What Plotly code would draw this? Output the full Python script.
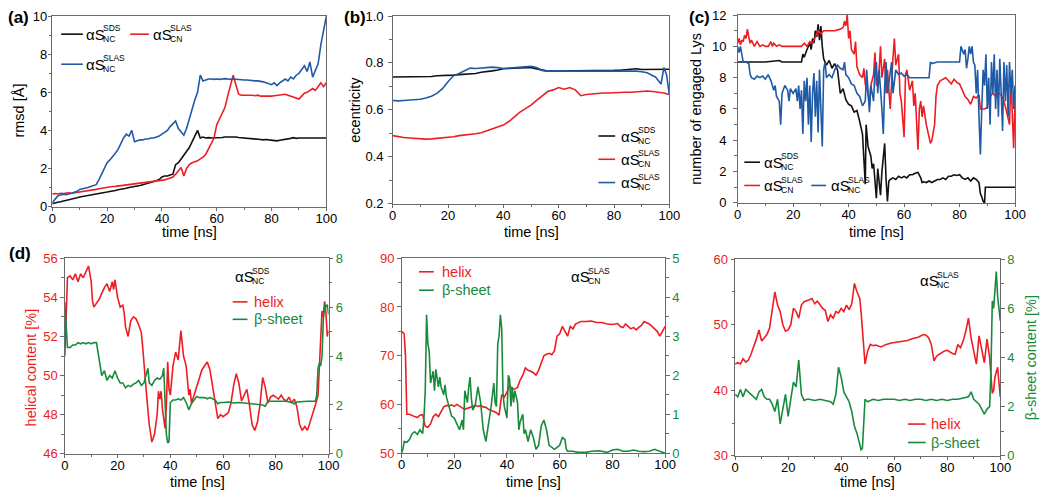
import plotly.graph_objects as go

# ---------------- data ----------------
time_a = list(range(0, 101))
rmsd_sds = [0.15,0.2,0.22,0.25,0.28,0.3,0.35,0.38,0.42,0.46,0.5,0.53,0.56,0.6,0.62,0.65,0.67,0.7,0.72,0.74,
            0.76,0.78,0.8,0.84,0.88,0.9,0.93,0.96,1.0,1.02,1.05,1.08,1.1,1.14,1.18,1.2,1.25,1.3,1.35,1.42,
            1.55,1.6,1.6,1.65,1.7,2.2,2.3,2.5,2.7,2.9,3.1,3.4,3.7,4.0,3.6,3.65,3.6,3.62,3.6,3.6,
            3.62,3.6,3.63,3.65,3.65,3.67,3.66,3.65,3.63,3.62,3.6,3.6,3.58,3.57,3.55,3.55,3.52,3.5,3.52,3.5,
            3.48,3.45,3.45,3.48,3.5,3.52,3.55,3.58,3.62,3.58,3.6,3.6,3.6,3.58,3.6,3.6,3.6,3.58,3.6,3.6,3.6]
rmsd_cn = [0.65,0.68,0.66,0.7,0.68,0.7,0.72,0.7,0.72,0.74,0.75,0.77,0.8,0.82,0.84,0.86,0.9,0.93,0.96,0.98,
           1.0,1.02,1.05,1.06,1.08,1.1,1.12,1.14,1.15,1.18,1.2,1.22,1.24,1.26,1.28,1.3,1.3,1.32,1.35,1.35,
           1.38,1.4,1.45,1.5,1.55,1.7,1.85,2.05,1.6,2.0,2.2,2.3,2.35,2.4,2.5,2.6,2.75,3.0,3.3,3.6,
           4.3,4.6,4.9,5.2,5.8,6.3,6.9,6.4,5.9,5.85,5.85,5.88,5.85,5.85,5.82,5.85,5.8,5.8,5.78,5.8,
           5.8,5.82,5.85,5.85,5.88,5.9,5.85,5.8,5.75,5.7,5.65,5.8,5.95,6.0,6.1,6.2,6.1,6.3,6.5,6.3,6.5]
rmsd_nc = [0.2,0.4,0.55,0.6,0.65,0.62,0.68,0.7,0.75,0.8,0.9,0.92,0.95,1.0,1.05,1.08,1.15,1.4,1.7,2.0,
           2.3,2.45,2.6,2.8,3.0,3.3,3.6,3.8,3.7,4.0,3.4,3.45,3.5,3.5,3.55,3.55,3.6,3.6,3.65,3.7,
           3.8,3.9,4.0,4.2,4.35,4.5,4.1,3.9,3.75,4.1,4.6,5.2,5.6,6.0,6.9,6.6,6.65,6.7,6.7,6.68,
           6.7,6.68,6.7,6.72,6.7,6.68,6.7,6.68,6.66,6.65,6.65,6.65,6.62,6.62,6.6,6.6,6.58,6.55,6.5,6.45,
           6.4,6.5,6.35,6.5,6.6,6.7,6.6,6.8,6.7,6.9,7.0,7.2,7.4,7.1,7.6,6.8,7.2,7.5,8.5,9.2,10.0]

time_b = list(range(0, 101, 2))
ecc_sds = [0.74,0.74,0.742,0.74,0.742,0.742,0.743,0.742,0.745,0.745,0.746,0.748,0.75,0.752,0.752,
           0.755,0.76,0.762,0.766,0.77,0.775,0.776,0.778,0.78,0.78,0.78,0.776,0.77,0.765,0.765,
           0.765,0.766,0.765,0.766,0.766,0.767,0.767,0.768,0.767,0.768,0.768,0.769,0.77,0.772,0.775,
           0.772,0.772,0.772,0.772,0.773,0.773]
ecc_cn = [0.49,0.485,0.482,0.48,0.478,0.476,0.475,0.476,0.478,0.48,0.482,0.485,0.49,0.492,0.495,
          0.498,0.502,0.51,0.518,0.525,0.535,0.55,0.57,0.59,0.605,0.62,0.64,0.66,0.678,0.685,
          0.695,0.688,0.695,0.685,0.66,0.665,0.668,0.67,0.672,0.672,0.674,0.675,0.675,0.675,0.677,
          0.678,0.68,0.678,0.675,0.672,0.665]
time_b_nc = list(range(0, 95, 2)) + [95, 96, 97, 98, 99, 100]
ecc_nc = [0.64,0.638,0.64,0.642,0.642,0.645,0.65,0.658,0.67,0.69,0.72,0.745,0.755,0.765,0.778,
          0.776,0.778,0.78,0.782,0.78,0.776,0.778,0.78,0.782,0.783,0.786,0.78,0.768,0.765,0.765,
          0.765,0.766,0.765,0.766,0.767,0.767,0.768,0.767,0.768,0.768,0.768,0.768,0.767,0.766,0.765,
          0.762,0.758,0.745,0.74,0.725,0.71,0.78,0.75,0.665]

lys_sds = [(0,9),(5,9),(10,9),(15,9.1),(16,9),(20,9),(23,9),(23.5,9.5),(24,9.3),(25,9.8),(26,10.2),(26.5,9.8),
           (27,10.5),(27.5,10.2),(28,11),(28.5,10.6),(29,11.4),(29.5,10.4),(30,11.3),(30.5,10),(31,9.2),(32,8.8),
           (33,9.1),(34,8.6),(35,8.9),(36,8.5),(36.5,7.5),(37,7.0),(38,7.3),(39,6.6),(40,6.3),(41,6.2),(42,5.8),
           (43,5.9),(44,5.2),(45,4.4),(45.5,2.8),(46,1.2),(46.3,5.0),(47,3.6),(48,3.0),(48.5,2.2),(49,2.5),
           (49.5,1.2),(50,0.3),(50.5,2.2),(51,1.5),(51.5,0.5),(52,2.0),(53,3.8),(53.5,1.5),(54,0.1),(54.5,1.4),
           (55,1.5),(56,1.6),(57,1.5),(58,1.7),(59,1.6),(60,1.7),(61,1.6),(62,1.8),(63,1.8),(64,1.9),(65,1.95),
           (66,1.6),(66.5,1.3),(67,1.35),(68,1.3),(69,1.4),(70,1.3),(71,1.4),(72,1.5),(73,1.5),(74,1.6),(75,1.5),
           (76,1.7),(77,1.7),(78,1.8),(79,1.75),(80,1.8),(81,1.6),(82,1.5),(83,1.6),(84,1.4),(85,1.6),(86,1.5),
           (87,1.3),(87.5,0.6),(88,0.4),(88.5,0.1),(89,0.0),(89.3,1.0),(90,1.0),(95,1.0),(100,1.0)]
lys_cn = [(0,10.2),(0.5,10.5),(1,10.1),(1.5,10.4),(2,10.3),(2.5,10.7),(3,10.5),(3.5,11.1),(4,10.6),(4.5,10.2),
          (5,10.4),(6,10.0),(7,10.3),(8,10.0),(9,10.1),(10,10.0),(11,10.0),(12,10.3),(12.5,10.0),(13,10.2),
          (14,10.0),(15,10.1),(16,10.0),(20,10),(23,10),(24,10.2),(25,10.0),(26,10.3),(27,10.2),(28,10.6),
          (29,11.0),(30,10.8),(31,11),(33,11),(35,11),(37,11.1),(38,11.2),(38.5,11.6),(39,11.3),(39.5,12),
          (40,10.5),(40.5,11),(41,9.8),(42,9.5),(42.5,10.3),(43,8.7),(44,8.2),(45,8.0),(45.5,8.6),(46,7.6),
          (47,7.0),(47.5,6.2),(48,7.5),(49,8.2),(49.5,9.6),(50,7.5),(51,8.5),(51.5,10),(52,8),(53,9.2),
          (53.5,7),(54,8.5),(55,6),(56,9.3),(56.5,10.5),(57,8.8),(58,9.5),(58.5,7),(59,6.5),(60,4.2),
          (60.5,8.2),(61,8.5),(62,7.2),(63,7.8),(63.5,6.2),(64,7),(65,3.4),(65.5,6),(66,6.5),(66.5,5.5),
          (67,6.2),(68,5.0),(69,4.2),(69.5,3.8),(70,4.0),(71,5.0),(71.5,6.8),(72,7.5),(73,7.8),(74,7.9),
          (75,8.0),(76,7.8),(77,7.6),(78,7.9),(79,7.7),(80,7.6),(81,7.2),(82,6.8),(83,6.6),(84,6.3),(85,6.8),
          (86,6.7),(87,6.9),(87.5,6.0),(88,6.0),(89,6.0),(90,6.1),(90.5,7.0),(91,6.8),(92,7.0),(93,6.8),
          (94,7.0),(95,6.9),(96,6.5),(97,5.8),(98,5.0),(98.5,8.0),(99,6.0),(99.5,3.5),(100,6.5)]
lys_nc = [(0,10),(0.5,9.6),(1,10),(1.5,9.5),(2,9),(3,9),(4,8.9),(4.5,8.2),(5,8),(6,7.9),(7,8.1),(8,8.0),(9,8.1),
          (10,7.9),(11,8.2),(12,7.8),(12.5,7.5),(13,7.2),(13.5,7.5),(14,6.8),(15,6.5),(15.5,5.0),(16,7.0),
          (17,7.5),(18,7.2),(18.5,6.5),(19,7.3),(20,7.0),(21,7.3),(21.5,6.5),(22,7.5),(22.5,6.0),(23,7.2),
          (23.5,4.4),(24,7.8),(24.5,6.5),(25,8.0),(25.5,5.0),(26,7.5),(26.5,3.9),(27,7.0),(27.5,8.3),(28,5.5),
          (28.5,7.8),(29,4.5),(29.5,8.5),(30,6.0),(30.5,3.6),(31,8.5),(31.5,9.0),(32,8.0),(33,8.2),(34,8.0),
          (35,8.5),(36,8.8),(37,8.6),(38,8.5),(38.5,9),(39,8.2),(40,8.0),(41,7.6),(42,7.5),(43,7.0),(44,6.8),
          (45,6.2),(46,6.5),(46.5,8.5),(47,7.0),(47.5,5.8),(48,7.5),(49,6.5),(49.5,8.5),(50,9.0),(50.5,7.0),
          (51,8.5),(52,6.0),(52.5,4.4),(53,7.5),(53.5,9.0),(54,7.0),(55,8.5),(55.5,9.0),(56,7.0),(57,8.5),
          (58,8.2),(59,8.3),(60,8.1),(61,8.2),(62,8.0),(64,8.0),(66,8.0),(68,8.0),(69,8.0),(69.5,9.0),(70,8.9),
          (72,9.0),(74,9.0),(76,9.0),(78,9.0),(80,9.0),(80.5,10),(81,9.8),(81.5,9.5),(82,9.8),(82.5,8.6),
          (83,9.2),(83.5,10),(84,9.5),(84.5,10),(85,9.0),(85.5,8.8),(86,7.0),(86.5,8.5),(87,5.5),(87.5,3.1),
          (88,6.0),(88.5,8.5),(89,7.5),(89.5,9.5),(90,6.0),(90.5,8.0),(91,5.0),(91.5,9.0),(92,7.0),(92.5,9.5),
          (93,6.0),(93.5,8.5),(94,5.5),(94.5,9.2),(95,7.0),(95.5,4.6),(96,9.0),(96.5,6.5),(97,8.8),(97.5,5.5),
          (98,9.0),(98.5,7.0),(99,8.5),(99.5,6.0),(100,7.5)]

helix_sds = [(0,51),(0.5,53.5),(1,55),(2,55.1),(3,54.9),(4,55.2),(5,54.8),(6,55.2),(7,55.0),(8,55.3),(9,55.6),
             (10,54.8),(10.5,53.8),(11,53.5),(12,53.7),(13,53.9),(14,54.2),(15,54.5),(16,54.7),(17,54.3),
             (18,54.8),(18.5,54.4),(19,54.9),(20,54.0),(21,53.5),(22,53.6),(22.5,53.2),(23,52.5),(24,52.0),
             (25,52.8),(26,53.0),(27,52.9),(28,52.6),(29,52.2),(29.5,51.5),(30,50.5),(31,49.0),(32,47.5),
             (33,46.6),(34,47.0),(35,48.0),(35.5,49.2),(36,48.8),(36.5,49.2),(37,48.3),(38,47.3),(38.5,48.5),
             (39,50.7),(39.5,49.3),(40,49.0),(41,50.5),(42,51.2),(43,50.8),(44,52.3),(45,51.0),(46,50.5),
             (47,49.0),(47.5,49.3),(48,48.6),(49,49.0),(50,49.4),(51,49.8),(52,50.3),(53,50.5),(54,50.7),
             (55,50.3),(56,49.5),(57,48.5),(58,47.8),(59,48.0),(60,47.9),(61,48.0),(62,48.1),(63,48.6),
             (64,49.5),(65,50.1),(66,49.6),(67,48.7),(68,49.0),(69,49.3),(70,48.5),(71,47.5),(72,47.2),
             (73,47.6),(74,48.5),(75,49.9),(76,49.4),(77,48.6),(78,48.9),(79,49.0),(80,48.9),(81,48.8),
             (82,49.0),(83,48.8),(84,48.7),(85,48.9),(86,48.6),(87,48.8),(88,48.4),(89,47.5),(90,47.2),
             (91,47.4),(92,47.2),(93,47.6),(94,48.0),(95,48.5),(96,49.0),(96.5,50.5),(97,52.5),(97.5,53.3),
             (98,53.0),(98.5,53.8),(99,53.2),(99.5,52.0),(100,52.3)]
beta_sds = [(0,6.2),(0.5,5.0),(1,4.35),(2,4.35),(3,4.45),(4,4.45),(5,4.55),(6,4.5),(7,4.55),(8,4.5),(9,4.55),
            (10,4.5),(11,4.55),(12,4.55),(12.5,4.2),(13,3.8),(14,3.2),(15,3.4),(16,3.0),(17,3.2),(18,3.1),
            (19,3.4),(20,3.1),(21,2.9),(22,2.9),(23,2.7),(24,2.8),(25,2.75),(26,2.85),(27,2.9),(28,3.0),
            (29,2.8),(30,2.9),(31,3.3),(31.5,3.5),(32,2.9),(33,2.8),(34,3.0),(35,3.1),(36,3.05),(37,3.2),
            (37.5,3.5),(38,2.2),(38.5,0.8),(39,0.45),(39.5,0.5),(40,2.1),(41,2.2),(42,2.2),(43,2.25),(44,2.2),
            (45,2.3),(46,2.1),(47,1.8),(48,2.05),(49,2.2),(50,2.35),(51,2.3),(52,2.3),(53,2.3),(54,2.25),
            (55,2.3),(56,2.25),(57,2.2),(58,2.05),(59,2.1),(60,2.1),(62,2.12),(64,2.08),(66,2.1),(68,2.08),
            (70,2.05),(72,2.05),(74,2.0),(75,2.0),(76,1.95),(77,2.15),(78,2.15),(80,2.15),(82,2.15),(84,2.15),
            (86,2.1),(87,2.05),(88,2.12),(90,2.15),(92,2.15),(94,2.15),(95,2.15),(95.5,2.4),(96,3.5),
            (96.5,3.7),(97,3.6),(97.5,4.0),(98,5.5),(98.5,6.1),(99,6.0),(99.5,6.1),(100,5.7)]

helix_cn = [(0,75),(1,74.5),(1.5,70),(2,58),(3,58),(4,57.7),(5,57.5),(6,57.3),(7,57.8),(8,57.9),(8.5,56.5),
            (9,55.5),(10,55.3),(11,56.0),(12,57.5),(13,58.0),(14,57.5),(15,58.5),(16,59.5),(17,59.8),(18,59.7),
            (19,59.9),(20,59.6),(21,60.0),(22,59.6),(23,59.3),(24,59.0),(25,59.2),(26,59.5),(27,59.7),(28,59.8),
            (29,59.6),(30,59.8),(31,59.5),(32,59.4),(33,59.0),(34,58.8),(35,58.5),(36,58.3),(37,57.8),(37.5,59.5),
            (38,62.0),(39,61.5),(40,62.5),(41,64.0),(42,63.0),(43,63.2),(44,63.5),(45,65.0),(46,66.0),(47,67.5),
            (48,67.0),(49,66.8),(50,66.5),(51,66.0),(52,67.0),(53,68.5),(54,70.0),(55,70.3),(56,70.5),(57,70.2),
            (58,71.0),(59,74.0),(60,74.5),(61,76.0),(62,75.0),(63,74.0),(64,76.0),(65,75.5),(66,76.5),(67,76.8),
            (68,77.0),(70,77.0),(72,77.1),(74,76.8),(76,76.8),(78,76.5),(80,76.4),(82,76.6),(83,76.0),(84,75.8),
            (85,76.5),(86,76.0),(87,75.5),(88,75.8),(89,75.3),(90,75.8),(91,76.2),(92,77.0),(93,76.8),(94,76.5),
            (95,76.0),(96,75.5),(97,75.0),(98,74.0),(99,75.0),(100,76.0)]
beta_cn = [(0,0.0),(0.5,0.1),(1,0.3),(2,0.28),(3,0.35),(4,0.5),(5,0.55),(6,0.48),(7,0.6),(8,0.5),(8.5,0.9),
           (9,1.6),(9.5,3.55),(10,2.8),(10.5,2.6),(11,1.8),(12,2.1),(12.5,1.6),(13,2.15),(14,1.7),(14.5,1.95),
           (15,1.7),(16,1.5),(16.5,1.75),(17,1.45),(18,1.2),(19,0.95),(20,0.9),(21,0.75),(22,0.6),(23,0.85),
           (23.5,0.6),(24,1.6),(25,1.3),(25.5,1.7),(26,1.95),(26.5,1.4),(27,1.1),(28,1.25),(29,1.7),(30,1.3),
           (31,0.6),(32,0.3),(33,0.7),(34,1.2),(35,1.8),(35.5,1.3),(36,1.2),(36.5,2.8),(37,3.0),(37.5,3.55),
           (38,3.2),(38.5,1.5),(39,1.2),(40,0.9),(40.5,2.0),(41,1.9),(41.5,1.2),(42,1.7),(42.5,1.3),(43,1.6),
           (44,1.3),(44.5,0.6),(45,0.8),(46,1.0),(46.5,0.5),(47,0.6),(48,0.3),(49,0.6),(50,0.4),(51,0.1),
           (52,0.2),(53,0.7),(54,0.85),(55,0.6),(56,0.2),(57,0.15),(58,0.1),(59,0.15),(60,0.2),(61,0.4),
           (62,0.35),(62.5,0.1),(63,0.05),(65,0.05),(67,0.02),(70,0.02),(72,0.05),(75,0.06),(78,0.02),(80,0.08),
           (82,0.1),(84,0.05),(86,0.05),(88,0.08),(90,0.05),(92,0.04),(94,0.05),(96,0.1),(98,0.05),(100,0.0)]

helix_nc = [(0,44),(1,44.2),(2,44.0),(3,44.8),(4,44.3),(5,44.6),(6,45.5),(7,46.5),(8,47.8),(9,49.2),(10,47.5),
            (11,48.0),(12,48.5),(13,49.5),(14,52.0),(15,55.0),(16,53.0),(17,52.0),(18,50.0),(19,49.0),(20,49.2),
            (21,50.0),(22,52.5),(23,52.0),(24,51.0),(25,53.0),(26,53.5),(27,53.6),(28,53.8),(29,54.0),(30,53.2),
            (31,53.6),(32,53.0),(33,52.5),(34,52.2),(35,50.5),(36,51.5),(37,51.0),(38,52.0),(39,51.8),(40,52.5),
            (41,52.0),(42,53.0),(43,52.3),(44,53.2),(45,56.3),(46,55.0),(47,54.0),(47.5,52.0),(48,49.0),(49,44.0),
            (50,46.0),(51,47.0),(52,46.8),(53,46.9),(55,46.6),(57,47.0),(59,47.2),(61,47.3),(63,47.5),(65,47.6),
            (67,47.9),(69,48.1),(71,48.5),(72,48.4),(73,48.0),(74,47.0),(75,44.5),(76,45.2),(77,45.5),(78,45.8),
            (79,46.0),(80,46.1),(81,45.8),(82,45.6),(83,45.5),(84,47.0),(85,46.5),(86,47.5),(87,49.0),(88,51.0),
            (89,48.0),(90,46.0),(91,44.0),(92,48.3),(93,46.0),(94,44.2),(95,47.8),(96,45.0),(97,39.5),(97.5,40.0),
            (98,42.0),(99,43.5),(100,39.0)]
beta_nc = [(0,2.5),(1,2.4),(2,2.7),(3,2.4),(4,2.7),(5,2.6),(6,2.5),(7,2.4),(8,2.3),(9,2.6),(10,2.7),(11,2.4),
           (12,2.3),(13,2.3),(14,2.1),(15,1.8),(16,2.3),(17,1.3),(18,2.0),(19,2.5),(20,1.6),(21,2.4),(22,3.0),
           (23,2.8),(24,3.9),(25,2.5),(26,2.25),(27,2.3),(28,2.3),(30,2.25),(32,2.3),(34,2.25),(36,2.2),(37,2.1),
           (38,2.5),(39,3.6),(40,3.2),(41,2.6),(42,2.4),(43,2.2),(44,1.8),(45,1.2),(46,0.9),(47,0.5),(47.5,0.25),
           (48,0.3),(48.5,1.5),(49,2.3),(50,2.2),(52,2.3),(54,2.25),(56,2.3),(58,2.3),(60,2.3),(62,2.25),(64,2.3),
           (66,2.25),(68,2.3),(70,2.3),(72,2.25),(74,2.3),(76,2.25),(78,2.3),(80,2.25),(82,2.3),(84,2.3),
           (86,2.35),(88,2.4),(89,2.6),(90,2.3),(91,2.2),(92,2.1),(93,1.9),(94,1.7),(95,1.9),(96,2.0),(96.5,3.5),
           (97,6.3),(97.5,6.0),(98,6.8),(98.5,7.5),(99,6.5),(100,5.5)]

# ---------------- styling ----------------
W, H = 1050, 499
BLACK = "#111111"
RED = "#ee1d23"
BLUE = "#1f5aa6"
GREEN = "#178a3c"
AXC = "#6a6a6a"
FONT = "Liberation Sans, Arial, Helvetica, sans-serif"
TICK = 13


def P(x):
    return x / W


def Q(y):
    return 1 - y / H


def unzip(pairs):
    return [p[0] for p in pairs], [p[1] for p in pairs]


fig = go.Figure()
LW = 1.6


def add(x, y, color, xa, ya):
    fig.add_trace(go.Scatter(x=x, y=y, mode="lines", line=dict(color=color, width=LW),
                             xaxis=xa, yaxis=ya, showlegend=False, hoverinfo="skip"))


# panel a
add(time_a, rmsd_sds, BLACK, "x", "y")
add(time_a, rmsd_cn, RED, "x", "y")
add(time_a, rmsd_nc, BLUE, "x", "y")
# panel b
add(time_b, ecc_sds, BLACK, "x2", "y2")
add(time_b, ecc_cn, RED, "x2", "y2")
add(time_b_nc, ecc_nc, BLUE, "x2", "y2")
# panel c
for series, col in ((lys_sds, BLACK), (lys_cn, RED), (lys_nc, BLUE)):
    t, v = unzip(series)
    add(t, v, col, "x3", "y3")
# panel d
for h, b, xa, yl, yr in ((helix_sds, beta_sds, "x4", "y4", "y7"),
                         (helix_cn, beta_cn, "x5", "y5", "y8"),
                         (helix_nc, beta_nc, "x6", "y6", "y9")):
    t, v = unzip(h)
    add(t, v, RED, xa, yl)
    t, v = unzip(b)
    add(t, v, GREEN, xa, yr)


def xax(dom, anchor):
    return dict(domain=dom, anchor=anchor, range=[0, 100], dtick=20, tick0=0,
                showline=True, linecolor=AXC, linewidth=1, mirror=True,
                ticks="outside", ticklen=3.5, tickcolor=AXC, tickwidth=1, ticklabelstandoff=-4,
                minor=dict(ticks="outside", dtick=10, ticklen=2.5, tickcolor=AXC),
                showgrid=False, zeroline=False,
                tickfont=dict(family=FONT, size=TICK, color="black"))


def yax(dom, anchor, rng, dtick, mdt, color="black", side="left", overlaying=None, mirror=True,
        standoff=0, fmt=None):
    d = dict(anchor=anchor, range=rng, dtick=dtick, tick0=rng[0], side=side,
             showline=True, linecolor=AXC, linewidth=1, mirror=mirror,
             ticks="outside", ticklen=3.5, tickcolor=AXC, tickwidth=1, ticklabelstandoff=standoff,
             minor=dict(ticks="outside", dtick=mdt, ticklen=2.5, tickcolor=AXC),
             showgrid=False, zeroline=False,
             tickfont=dict(family=FONT, size=TICK, color=color))
    if fmt:
        d["tickformat"] = fmt
    if overlaying:
        d["overlaying"] = overlaying
    else:
        d["domain"] = dom
    return d


dom_a = ([P(49), P(327)], [Q(205.7), Q(9.5)])
dom_b = ([P(394.3), P(675)], [Q(202.7), Q(9.3)])
dom_c = ([P(744.3), P(1025.7)], [Q(202), Q(8.3)])
dom_d1 = ([P(61.7), P(329.3)], [Q(460.7), Q(259)])
dom_d2 = ([P(403.3), P(670.7)], [Q(460), Q(259)])
dom_d3 = ([P(741.7), P(1010.7)], [Q(462.7), Q(260)])

fig.update_layout(
    width=W, height=H, margin=dict(l=0, r=0, t=0, b=0),
    paper_bgcolor="white", plot_bgcolor="white",
    xaxis=xax(dom_a[0], "y"), yaxis=yax(dom_a[1], "x", [0, 10], 2, 1, standoff=-2),
    xaxis2=xax(dom_b[0], "y2"), yaxis2=yax(dom_b[1], "x2", [0.2, 1.0], 0.2, 0.1, standoff=2, fmt=".1f"),
    xaxis3=xax(dom_c[0], "y3"), yaxis3=yax(dom_c[1], "x3", [0, 12], 2, 1, standoff=4),
    xaxis4=xax(dom_d1[0], "y4"), yaxis4=yax(dom_d1[1], "x4", [46, 56], 2, 1, RED, mirror=False),
    xaxis5=xax(dom_d2[0], "y5"), yaxis5=yax(dom_d2[1], "x5", [50, 90], 10, 5, RED, mirror=False),
    xaxis6=xax(dom_d3[0], "y6"), yaxis6=yax(dom_d3[1], "x6", [30, 60], 10, 5, RED, mirror=False),
    yaxis7=yax(None, "x4", [0, 8], 2, 1, GREEN, side="right", overlaying="y4", mirror=False, standoff=0),
    yaxis8=yax(None, "x5", [0, 5], 1, 0.5, GREEN, side="right", overlaying="y5", mirror=False, standoff=0),
    yaxis9=yax(None, "x6", [0, 8], 2, 1, GREEN, side="right", overlaying="y6", mirror=False, standoff=0),
)

ann = []


def text(x, y, s, size=14, color="black", xanchor="center", yanchor="middle", angle=0, bold=False):
    ann.append(dict(x=P(x), y=Q(y), xref="paper", yref="paper", text=("<b>%s</b>" % s) if bold else s,
                    showarrow=False, xanchor=xanchor, yanchor=yanchor, textangle=angle,
                    font=dict(family=FONT, size=size, color=color)))


shapes = []


def seg(x0, x1, y, color):
    shapes.append(dict(type="line", xref="paper", yref="paper", x0=P(x0), x1=P(x1), y0=Q(y), y1=Q(y),
                       line=dict(color=color, width=1.6)))


def alpha_s(x, y, sup, sub, size=15):
    text(x, y, "\u03b1S", size=size, xanchor="left")
    text(x + 17.5, y - 6, sup, size=8.5, xanchor="left")
    text(x + 17.5, y + 5, sub, size=8.5, xanchor="left")


# panel labels
text(2, 11, "(a)", size=17, xanchor="left", bold=True)
text(343, 11, "(b)", size=17, xanchor="left", bold=True)
text(693, 11, "(c)", size=17, xanchor="left", bold=True)
text(3, 254, "(d)", size=17, xanchor="left", bold=True)

# axis titles
for cx in (188, 535, 885):
    text(cx, 231.5, "time [ns]", size=14.5)
for cx in (196, 537, 876):
    text(cx, 490, "time [ns]", size=14.5)
text(15, 107, "rmsd [\u00c5]", size=14.5, angle=-90)
text(356, 106, "ecentricity", size=14.5, angle=-90)
text(702, 105, "number of engaged Lys", size=14.5, angle=-90)
text(27, 372, "helical content [%]", size=14.5, angle=-90, color=RED)
text(1042, 362, "\u03b2-sheet content [%]", size=14.5, angle=-90, color=GREEN)

# legend panel a
seg(58, 80, 28, BLACK); alpha_s(81, 28, "SDS", "NC")
seg(128, 147, 28, RED); alpha_s(149, 28, "SLAS", "CN")
seg(58, 80, 59, BLUE); alpha_s(81, 59, "SLAS", "NC")
# legend panel b
seg(603, 620, 133, BLACK); alpha_s(624, 133, "SDS", "NC")
seg(603, 620, 157, RED); alpha_s(624, 157, "SLAS", "CN")
seg(603, 620, 181, BLUE); alpha_s(624, 181, "SLAS", "NC")
# legend panel c
seg(751, 767, 160, BLACK); alpha_s(769, 160, "SDS", "NC")
seg(751, 767, 184, RED); alpha_s(769, 184, "SLAS", "CN")
seg(819, 834, 184, BLUE); alpha_s(837, 184, "SLAS", "NC")
# legend d1
alpha_s(232, 278, "SDS", "NC")
seg(232, 247, 304, RED); text(252, 304, "helix", size=14.5, color=RED, xanchor="left")
seg(232, 247, 322, GREEN); text(252, 322, "\u03b2-sheet", size=14.5, color=GREEN, xanchor="left")
# legend d2
seg(421, 436, 273, RED); text(442, 273, "helix", size=14.5, color=RED, xanchor="left")
seg(421, 436, 292, GREEN); text(442, 292, "\u03b2-sheet", size=14.5, color=GREEN, xanchor="left")
alpha_s(573, 278, "SLAS", "CN")
# legend d3
alpha_s(927, 282, "SLAS", "NC")
seg(917, 935, 430, RED); text(938, 430, "helix", size=14.5, color=RED, xanchor="left")
seg(917, 935, 449, GREEN); text(938, 449, "\u03b2-sheet", size=14.5, color=GREEN, xanchor="left")

fig.update_layout(annotations=ann, shapes=shapes)
fig.write_html("out.html", config={"displayModeBar": False},
               post_script="document.body.style.margin='0px';document.body.style.overflow='hidden';")
